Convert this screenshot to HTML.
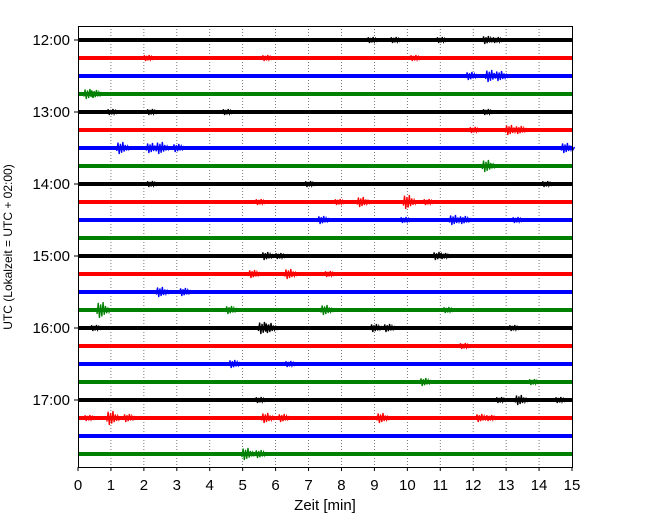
<!DOCTYPE html>
<html><head><meta charset="utf-8"><style>
body{margin:0;background:#fff;}
svg{display:block;font-family:"Liberation Sans","DejaVu Sans",sans-serif;}
</style></head><body>
<svg id="chart" width="650" height="520" viewBox="0 0 650 520" xmlns="http://www.w3.org/2000/svg">
<g id="grid"></g>
<g id="traces"></g>
<rect x="78.5" y="26.5" width="494" height="441" fill="none" stroke="#000" stroke-width="1"/>
<g id="axes"></g>
<text x="325" y="510" font-size="15" text-anchor="middle">Zeit  [min]</text>
<text transform="translate(12,247) rotate(-90)" font-size="12" text-anchor="middle">UTC (Lokalzeit = UTC + 02:00)</text>
</svg>
<script>
const xTicks=[0,1,2,3,4,5,6,7,8,9,10,11,12,13,14,15];
const yTickLabels=["12:00","13:00","14:00","15:00","16:00","17:00"];
const traceColors=["#000000","#ff0000","#0000ff","#008000"];
const traceCount=24;
const events=[
[[8.9,3],[9.6,3],[11.0,3],[12.4,4],[12.7,3]],
[[2.1,3],[5.7,3],[10.2,3]],
[[11.9,4],[12.5,6],[12.8,5]],
[[0.3,5],[0.5,4]],
[[1.0,3],[2.2,3],[4.5,3],[12.4,3]],
[[12.0,3],[13.1,5],[13.4,4]],
[[1.3,6],[2.2,5],[2.5,6],[3.0,4],[14.8,5]],
[[12.4,6]],
[[2.2,3],[7.0,3],[14.2,3]],
[[5.5,3],[7.9,3],[8.6,5],[10.0,7],[10.6,3]],
[[7.4,4],[9.9,3],[11.4,5],[11.7,4],[13.3,3]],
[],
[[5.7,4],[6.1,3],[10.9,4],[11.1,3]],
[[5.3,4],[6.4,5],[7.6,3]],
[[2.5,5],[3.2,4]],
[[0.7,8],[4.6,4],[7.5,5],[11.2,3]],
[[0.5,3],[5.6,6],[5.8,5],[9.0,4],[9.4,4],[13.2,3]],
[[11.7,3]],
[[4.7,4],[6.4,3]],
[[10.5,4],[13.8,3]],
[[5.5,3],[12.8,3],[13.4,5],[14.6,3]],
[[0.3,3],[1.0,7],[1.5,4],[5.7,5],[6.2,4],[9.2,5],[12.2,4],[12.5,3]],
[],
[[5.1,6],[5.5,4]]
];
const NS="http://www.w3.org/2000/svg";
const X0=78,X1=572,Y0=26,Y1=467;
function xs(m){return X0+(m-0)*(X1-X0)/15;}
function ys(i){return 40+i*18;}
function mk(tag,attrs,parent){const e=document.createElementNS(NS,tag);for(const k in attrs)e.setAttribute(k,attrs[k]);parent.appendChild(e);return e;}
const grid=document.getElementById('grid'),tr=document.getElementById('traces'),ax=document.getElementById('axes');
xTicks.forEach(t=>{
  if(t>0&&t<15){const l=mk('line',{x1:xs(t),x2:xs(t),y1:Y0,y2:Y1,stroke:'#555','stroke-width':0.8,'stroke-dasharray':'1,2'},grid);
  
  }
  const tk=mk('line',{x1:xs(t),x2:xs(t),y1:Y1,y2:Y1+4,stroke:'#000'},ax);
  
  
  const tx=mk('text',{x:xs(t),y:Y1+23,'font-size':15,'text-anchor':'middle'},ax);
  tx.textContent=t;
  
  
});
yTickLabels.forEach((lab,k)=>{
  const y=ys(k*4);
  const tk=mk('line',{x1:X0-4,x2:X0,y1:y,y2:y,stroke:'#000'},ax);
  
  
  const tx=mk('text',{x:X0-8,y:y+5,'font-size':15,'text-anchor':'end'},ax);
  tx.textContent=lab;
  
  
});
const pat=[0.5,-0.9,1,-0.7,0.8,-1,0.6,-0.5,0.4,-0.3,0.25,-0.2];
for(let i=0;i<traceCount;i++){
  const c=traceColors[i%4];const y=ys(i);
  const g=mk('g',{},tr);
  
  
  mk('rect',{x:X0,y:y-2,width:X1-X0,height:4,fill:c},g);
  (events[i]||[]).forEach(ev=>{
    const cx=xs(ev[0]);let d='M'+(cx-4)+','+y;
    pat.forEach((p,j)=>{d+=' L'+(cx-4+j*1.2)+','+(y+p*ev[1]);});
    const pth=mk('path',{d:d,fill:'none',stroke:c,'stroke-width':1.3},g);
    
    
  });
}
</script>
</body></html>
